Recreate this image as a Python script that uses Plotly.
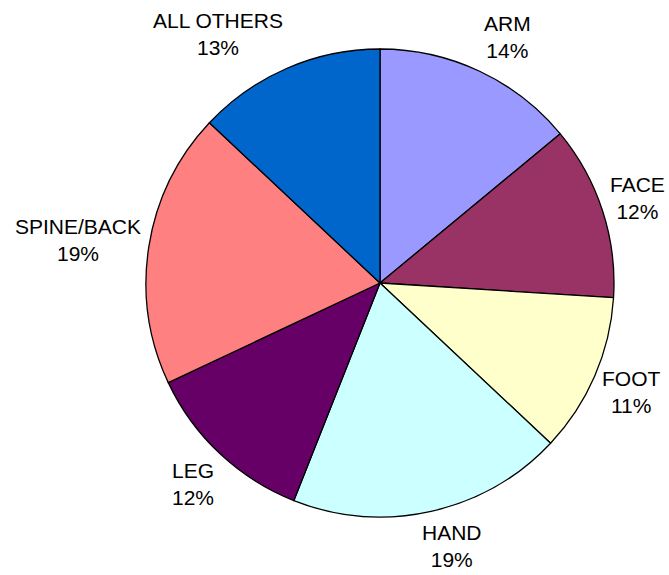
import math
import plotly.graph_objects as go

# Share of injuries by body part (percent), clockwise from 12 o'clock
labels = ["ARM", "FACE", "FOOT", "HAND", "LEG", "SPINE/BACK", "ALL OTHERS"]
values = [14, 12, 11, 19, 12, 19, 13]
colors = ["#9999FF", "#993366", "#FFFFCC", "#CCFFFF", "#660066", "#FF8080", "#0066CC"]

W, H = 669, 575
CX, CY = 380, 292          # pie centre in pixels (y measured from bottom)
R = 234                    # pie radius in pixels
GAP_X, GAP_Y = 6, 13       # distance of labels from the rim
FONT = 21

fig = go.Figure(go.Pie(
    labels=labels,
    values=values,
    marker=dict(colors=colors, line=dict(color="black", width=1.3)),
    sort=False,
    direction="clockwise",
    rotation=0,
    textinfo="none",
    hoverinfo="label+percent",
    domain=dict(x=[(CX - R) / W, (CX + R) / W], y=[(CY - R) / H, (CY + R) / H]),
))


def clamp(v):
    return max(-1.0, min(1.0, v))


# Outside labels: box pushed away from the rim along the slice's middle angle
total = sum(values)
annotations = []
cum = 0
for lab, v in zip(labels, values):
    mid = (cum + v / 2) / total * 2 * math.pi
    cum += v
    s, c = math.sin(mid), math.cos(mid)
    px = CX + (R + GAP_X) * s
    py = CY + (R + GAP_Y) * c
    pct = round(v / total * 100)
    text = f"{lab}<br>{pct}%"
    fx = clamp(3.5 * s)
    fy = clamp(1.3 * c)
    half_h = 1.05 * FONT
    half_w = 0.3 * FONT * max(len(lab), 3)
    if fx >= 1:
        xa, xs = "left", 0
    elif fx <= -1:
        xa, xs = "right", 0
    else:
        xa, xs = "center", fx * half_w
    annotations.append(dict(
        x=px / W, y=py / H, xref="paper", yref="paper",
        text=text, showarrow=False,
        xanchor=xa, yanchor="middle", xshift=xs, yshift=fy * half_h,
        align="center",
        font=dict(family="Liberation Sans, Arial, sans-serif", size=FONT, color="black"),
    ))

fig.update_layout(
    width=W, height=H,
    margin=dict(l=0, r=0, t=0, b=0),
    paper_bgcolor="white",
    plot_bgcolor="white",
    showlegend=False,
    annotations=annotations,
)

fig.write_html("out.html")
